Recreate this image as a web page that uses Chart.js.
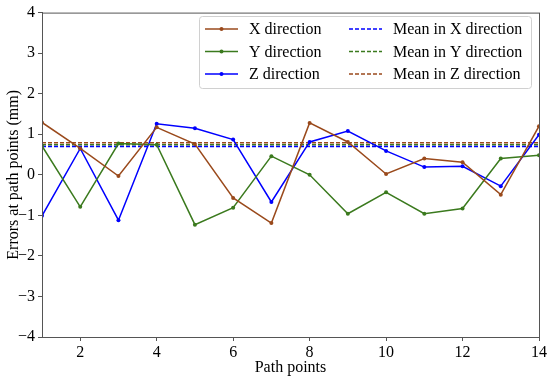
<!DOCTYPE html>
<html>
<head>
<meta charset="utf-8">
<script src="https://cdn.jsdelivr.net/npm/chart.js@4"></script>
<style>
  html, body { margin: 0; padding: 0; background: #fff; }
  #wrap { width: 550px; height: 381px; }
</style>
</head>
<body>
<div id="wrap"><canvas id="myChart" width="550" height="381"></canvas></div>
<script>
// path points on the x axis
var pathPoints = [1, 2, 3, 4, 5, 6, 7, 8, 9, 10, 11, 12, 13, 14];
var xTicks = [2, 4, 6, 8, 10, 12, 14];
var yTicks = [-4, -3, -2, -1, 0, 1, 2, 3, 4];

// errors (mm)
var errX = [1.29, 0.65, -0.03, 1.17, 0.76, -0.57, -1.19, 1.28, 0.81, 0.02, 0.40, 0.31, -0.49, 1.20];
var errY = [0.71, -0.79, 0.77, 0.74, -1.23, -0.81, 0.46, 0.00, -0.96, -0.43, -0.96, -0.83, 0.40, 0.48];
var errZ = [-1.01, 0.65, -1.12, 1.26, 1.15, 0.87, -0.67, 0.81, 1.08, 0.59, 0.19, 0.21, -0.28, 0.99];

// mean lines (X, Y, Z)
var meanVals = [0.70, 0.74, 0.79];

var brown = '#9a4a1c';
var green = '#3b7a1e';
var blue = '#0000ff';
var font = 'Liberation Serif';

function pts(vals) {
  return pathPoints.map(function(p, i) { return { x: p, y: vals[i] }; });
}
function flat(v) {
  return pathPoints.map(function(p) { return { x: p, y: v }; });
}

// legend drawn in two columns inside the plot, like the original
var boxLegend = {
  id: 'boxLegend',
  afterDatasetsDraw: function(chart) {
    var c = chart.ctx;
    var ds = chart.data.datasets;
    var bx = 199, by = 16, bw = 332, bh = 72;
    c.save();
    c.fillStyle = 'rgba(255,255,255,0.85)';
    c.strokeStyle = '#d0d0d0';
    c.lineWidth = 1;
    c.beginPath();
    c.roundRect(bx + 0.5, by + 0.5, bw, bh, 3);
    c.fill();
    c.stroke();
    c.font = '16px "' + font + '"';
    c.textBaseline = 'middle';
    var cols = [205, 349];
    for (var i = 0; i < ds.length; i++) {
      var col = Math.floor(i / 3), row = i % 3;
      var lx = cols[col], ly = 29 + row * 22.5;
      c.strokeStyle = ds[i].borderColor;
      c.lineWidth = 1.5;
      c.setLineDash(ds[i].borderDash || []);
      c.beginPath();
      c.moveTo(lx, ly);
      c.lineTo(lx + 33, ly);
      c.stroke();
      c.setLineDash([]);
      if (ds[i].pointRadius) {
        c.fillStyle = ds[i].borderColor;
        c.beginPath();
        c.arc(lx + 16.5, ly, 2, 0, Math.PI * 2);
        c.fill();
      }
      c.fillStyle = '#000';
      c.fillText(ds[i].label, lx + 44, ly + 1);
    }
    c.restore();
  }
};

var frame = {
  id: 'frame',
  afterDraw: function(chart) {
    var a = chart.chartArea, c = chart.ctx;
    c.save();
    c.strokeStyle = '#555';
    c.lineWidth = 1;
    c.strokeRect(a.left + 0.5, a.top + 0.5, a.right - a.left, a.bottom - a.top);
    c.restore();
  }
};

function lineSet(label, vals, color) {
  return {
    label: label, data: pts(vals), borderColor: color, backgroundColor: color,
    borderWidth: 1.5, pointRadius: 2, pointBorderWidth: 0, tension: 0
  };
}
function meanSet(label, v, color) {
  return {
    label: label, data: flat(v), borderColor: color, backgroundColor: color,
    borderWidth: 1.5, borderDash: [4, 2], pointRadius: 0, tension: 0
  };
}

var ctx = document.getElementById('myChart').getContext('2d');
var myChart = new Chart(ctx, {
  type: 'line',
  data: {
    datasets: [
      lineSet('X direction', errX, brown),
      lineSet('Y direction', errY, green),
      lineSet('Z direction', errZ, blue),
      meanSet('Mean in X direction', meanVals[0], blue),
      meanSet('Mean in Y direction', meanVals[1], green),
      meanSet('Mean in Z direction', meanVals[2], brown)
    ]
  },
  options: {
    responsive: false,
    animation: false,
    layout: { padding: { top: 8, right: 11, left: 0, bottom: 0 } },
    plugins: { legend: { display: false }, tooltip: { enabled: false } },
    scales: {
      x: {
        type: 'linear', min: 1, max: 14,
        afterBuildTicks: function(s) { s.ticks = xTicks.map(function(v) { return { value: v }; }); },
        afterFit: function(s) { s.height = 44; },
        grid: { drawOnChartArea: false, drawTicks: true, tickLength: 4, color: '#555' },
        border: { color: '#555' },
        ticks: { color: '#000', font: { family: font, size: 16 }, padding: 2, maxRotation: 0 },
        title: { display: true, text: 'Path points', color: '#000', font: { family: font, size: 16 }, padding: { top: 0 } }
      },
      y: {
        min: -4, max: 4,
        afterBuildTicks: function(s) { s.ticks = yTicks.map(function(v) { return { value: v }; }); },
        afterFit: function(s) { s.width = 42; },
        grid: { drawOnChartArea: false, drawTicks: true, tickLength: 4, color: '#555' },
        border: { color: '#555' },
        ticks: {
          color: '#000', font: { family: font, size: 16 }, padding: 3,
          callback: function(v) { return String(v).replace('-', '\u2212'); }
        },
        title: { display: true, text: 'Errors at path points (mm)', color: '#000', font: { family: font, size: 16 }, padding: { bottom: 0 } }
      }
    }
  },
  plugins: [boxLegend, frame]
});
</script>
</body>
</html>
